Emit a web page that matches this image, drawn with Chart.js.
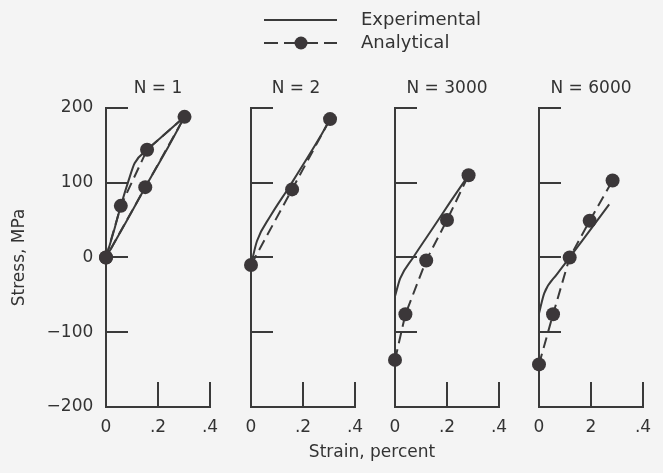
<!DOCTYPE html>
<html>
<head>
<meta charset="utf-8">
<title>Stress-strain loops</title>
<script src="https://cdn.jsdelivr.net/npm/chart.js@4/dist/chart.umd.min.js"></script>
<style>
  body { margin: 0; background: #f4f4f4; }
  #figure { position: relative; width: 663px; height: 473px; }
  #figure canvas { position: absolute; }
</style>
</head>
<body>
<div id="figure">
  <canvas id="frame" width="663" height="473" style="left:0;top:0"></canvas>
  <canvas id="panel1" width="222" height="413" style="left:0;top:60px"></canvas>
  <canvas id="panel2" width="132" height="413" style="left:237px;top:60px"></canvas>
  <canvas id="panel3" width="132" height="413" style="left:381px;top:60px"></canvas>
  <canvas id="panel4" width="132" height="413" style="left:525px;top:60px"></canvas>
</div>
<script>
// cycle number shown above each panel
const cycles = ['N = 1', 'N = 2', 'N = 3000', 'N = 6000'];

const xTickLabels = ['0', '.2', '.4'];
const xTickLabels6000 = ['0', '2', '.4'];   // printed without the point on the last panel
const yTickLabels = ['\u2212200', '\u2212100', '0', '100', '200'];

const seriesNames = ['Experimental', 'Analytical'];
const xAxisTitle = 'Strain, percent';
const yAxisTitle = 'Stress, MPa';

// strain in percent, stress in MPa
// N = 1: loading and unloading branches of the first loop
const expStrain1Up = [0, 0.03, 0.057, 0.087, 0.11, 0.158, 0.23, 0.302];
const expStress1Up = [0, 35, 69, 103, 126, 144, 166, 188];
const expStrain1Down = [0, 0.075, 0.151, 0.23, 0.302];
const expStress1Down = [0, 46, 94, 142, 188];
const anaStrain1 = [0, 0.057, 0.158, 0.302, 0.151, 0];
const anaStress1 = [0, 69, 144, 188, 94, 0];

const expStrain2 = [0, 0.023, 0.074, 0.15, 0.267, 0.304];
const expStress2 = [-10, 22, 55, 96, 162, 185];
const anaStrain2 = [0, 0.158, 0.304];
const anaStress2 = [-10, 91, 185];

const expStrain3 = [0, 0.02, 0.07, 0.149, 0.212, 0.283];
const expStress3 = [-52, -28, 0, 41, 74, 110];
const anaStrain3 = [0, 0.04, 0.12, 0.2, 0.283];
const anaStress3 = [-137, -76, -4, 50, 110];

const expStrain4 = [0, 0.02, 0.07, 0.118, 0.195, 0.27];
const expStress4 = [-75, -48, -22, 0, 36, 71];
const anaStrain4 = [0, 0.054, 0.118, 0.195, 0.283];
const anaStress4 = [-143, -76, 0, 49, 103];

const ink = '#3a3a3a';
const dotInk = '#3b3739';
const textInk = '#333';

Chart.defaults.font.family = "'DejaVu Sans', sans-serif";
Chart.defaults.font.size = 17;
Chart.defaults.color = textInk;
Chart.defaults.animation = false;

function points(xs, ys) {
  return xs.map((x, i) => ({ x: x, y: ys[i] }));
}

// canvas geometry of each panel: width of the y axis box and right padding
const panelBoxes = [
  { axisWidth: 106, rightPad: 12, wideTitle: false },
  { axisWidth: 14, rightPad: 14, wideTitle: true },
  { axisWidth: 14, rightPad: 14, wideTitle: false },
  { axisWidth: 14, rightPad: 14, wideTitle: false }
];

const panels = [
  {
    exp: [points(expStrain1Up, expStress1Up), points(expStrain1Down, expStress1Down)],
    ana: points(anaStrain1, anaStress1),
    xLabels: xTickLabels
  },
  { exp: [points(expStrain2, expStress2)], ana: points(anaStrain2, anaStress2), xLabels: xTickLabels },
  { exp: [points(expStrain3, expStress3)], ana: points(anaStrain3, anaStress3), xLabels: xTickLabels },
  { exp: [points(expStrain4, expStress4)], ana: points(anaStrain4, anaStress4), xLabels: xTickLabels6000 }
];

panels.forEach((p, i) => {
  const box = panelBoxes[i];
  const first = i === 0;

  const datasets = [{
    label: seriesNames[1],
    data: p.ana,
    borderColor: ink,
    borderWidth: 2,
    borderDash: [11, 6],
    pointRadius: 7,
    pointBackgroundColor: dotInk,
    pointBorderColor: dotInk,
    pointBorderWidth: 0,
    tension: 0,
    clip: false
  }];
  p.exp.forEach(curve => {
    datasets.push({
      label: seriesNames[0],
      data: curve,
      borderColor: ink,
      borderWidth: 2,
      pointRadius: 0,
      cubicInterpolationMode: 'monotone',
      clip: false
    });
  });

  new Chart(document.getElementById('panel' + (i + 1)), {
    type: 'line',
    data: { datasets: datasets },
    options: {
      responsive: false,
      layout: { padding: { top: 18, right: box.rightPad, left: 0, bottom: 0 } },
      plugins: {
        legend: { display: false },
        tooltip: { enabled: false },
        title: {
          display: true,
          text: cycles[i],
          fullSize: box.wideTitle,
          padding: { top: 0, bottom: 9.5 },
          font: { size: 17, weight: 'normal' },
          color: textInk
        }
      },
      scales: {
        x: {
          type: 'linear',
          min: 0,
          max: 0.4,
          border: { display: true, color: ink, width: 2 },
          // negative tick length turns the tick marks inward
          grid: { drawOnChartArea: false, tickLength: -25, color: ink, lineWidth: 2 },
          ticks: {
            stepSize: 0.2,
            padding: 35.8,
            maxRotation: 0,
            minRotation: 0,
            callback: (v, k) => p.xLabels[k]
          },
          afterFit: s => {
            s.height = 66;
            s.paddingLeft = 0;
            s.paddingRight = 0;
          }
        },
        y: {
          min: -200,
          max: 200,
          border: { display: true, color: ink, width: 2 },
          grid: { drawOnChartArea: false, tickLength: -22, color: ink, lineWidth: 2 },
          ticks: {
            display: first,
            stepSize: 100,
            padding: 34.7,
            callback: (v, k) => yTickLabels[k]
          },
          title: {
            display: first,
            text: yAxisTitle,
            padding: { top: 9, bottom: 0 },
            font: { size: 17 },
            color: textInk
          },
          afterFit: s => {
            s.width = box.axisWidth;
            s.paddingTop = 0;
            s.paddingBottom = 0;
          }
        }
      }
    }
  });
});

// small line samples for the legend
function legendSwatch(withDot) {
  const c = document.createElement('canvas');
  c.width = 88;
  c.height = 16;
  const g = c.getContext('2d');
  g.strokeStyle = ink;
  g.lineWidth = 2;
  if (withDot) g.setLineDash([14, 6]);
  g.beginPath();
  g.moveTo(0, 8);
  g.lineTo(73, 8);
  g.stroke();
  if (withDot) {
    g.fillStyle = dotInk;
    g.beginPath();
    g.arc(37, 8, 6.5, 0, Math.PI * 2);
    g.fill();
  }
  return c;
}

const legendItems = [
  { text: seriesNames[0], pointStyle: legendSwatch(false), fontColor: textInk, lineWidth: 0, hidden: false, datasetIndex: 0 },
  { text: seriesNames[1], pointStyle: legendSwatch(true), fontColor: textInk, lineWidth: 0, hidden: false, datasetIndex: 1 }
];

// shared legend and strain axis title
new Chart(document.getElementById('frame'), {
  type: 'line',
  data: { datasets: [] },
  options: {
    responsive: false,
    layout: { padding: { top: 6, left: 259, right: 178, bottom: 0 } },
    scales: { x: { display: false }, y: { display: false } },
    plugins: {
      tooltip: { enabled: false },
      legend: {
        position: 'top',
        align: 'start',
        labels: {
          usePointStyle: true,
          pointStyleWidth: 88,
          padding: 5,
          font: { size: 18 },
          color: textInk,
          generateLabels: () => legendItems
        }
      },
      subtitle: {
        display: true,
        text: xAxisTitle,
        position: 'bottom',
        padding: { top: 0, bottom: 10 },
        font: { size: 17 },
        color: textInk
      }
    }
  }
});
</script>
</body>
</html>
